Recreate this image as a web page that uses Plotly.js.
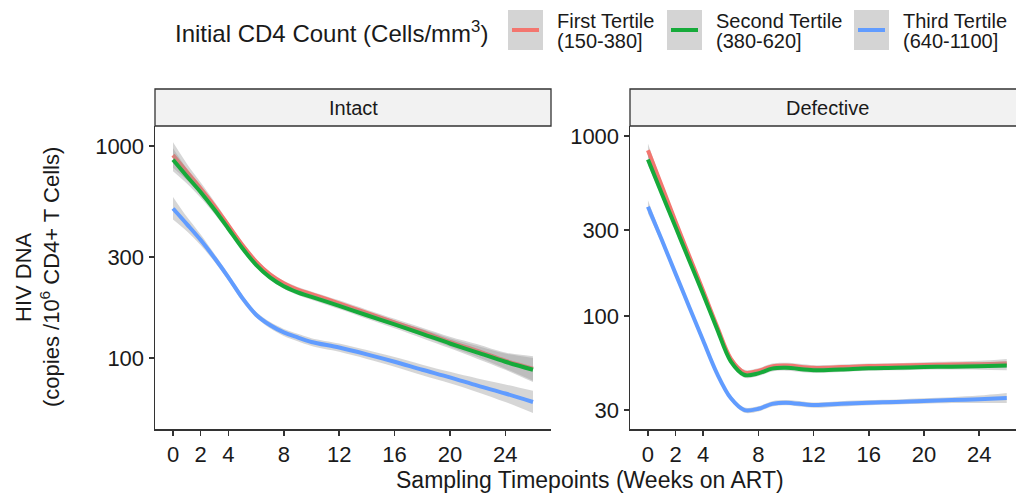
<!DOCTYPE html>
<html>
<head>
<meta charset="utf-8">
<script src="https://cdn.plot.ly/plotly-3.0.1.min.js"></script>
<style>
  html, body { margin: 0; padding: 0; background: #ffffff; }
  #chart { width: 1016px; height: 493px; }
</style>
</head>
<body>
<div id="chart"></div>
<script>
// ---------------- DATA ----------------
const weeks = [0, 1, 2, 3, 4, 5, 6, 7, 8, 9, 10, 12, 14, 16, 18, 20, 22, 24, 26];

const seriesNames = ["First Tertile", "Second Tertile", "Third Tertile"];
const seriesRanges = ["(150-380]", "(380-620]", "(640-1100]"];
const panelNames = ["Intact", "Defective"];

// Intact panel
const intactFirst   = [905, 755, 630, 520, 422, 342, 285, 248, 225, 210, 200, 181, 163, 147, 133, 119, 108, 97, 89];
const intactFirstLo = [790, 690, 590, 495, 407, 332, 277, 241, 219, 204, 194, 175, 157, 141, 127, 113, 101, 89, 78];
const intactFirstHi = [1040, 825, 672, 546, 438, 352, 293, 255, 231, 216, 206, 187, 169, 153, 139, 126, 116, 106, 102];

const intactSecond   = [860, 720, 605, 500, 407, 330, 275, 240, 218, 204, 194, 176, 159, 144, 130, 117, 106, 96, 88];
const intactSecondLo = [760, 665, 570, 478, 393, 320, 268, 234, 212, 198, 188, 170, 153, 138, 124, 111, 99, 88, 77];
const intactSecondHi = [975, 780, 642, 523, 422, 340, 282, 246, 224, 210, 200, 182, 165, 150, 137, 124, 114, 105, 100];

const intactThird   = [507, 428, 360, 296, 240, 192, 160, 143, 132, 125, 119, 112, 104, 96, 88, 81, 74, 68, 62];
const intactThirdLo = [450, 396, 340, 284, 231, 185, 155, 138, 127, 120, 114, 107, 99, 91, 83, 76, 69, 62, 55];
const intactThirdHi = [575, 463, 382, 309, 249, 199, 165, 148, 137, 130, 124, 117, 109, 101, 93, 86, 80, 75, 70];

// Defective panel
const defFirst   = [835, 530, 335, 215, 138, 88, 58, 48.5, 49.5, 52.5, 53, 51.5, 52, 52.7, 53, 53.5, 53.8, 54, 54.5];
const defFirstLo = [770, 505, 322, 208, 133, 85, 56, 46.8, 47.8, 50.6, 51.1, 49.7, 50.3, 51, 51.3, 51.7, 51.8, 51.7, 51.5];
const defFirstHi = [910, 556, 348, 222, 143, 91, 60, 50.2, 51.2, 54.4, 54.9, 53.3, 53.7, 54.4, 54.7, 55.3, 55.8, 56.4, 57.7];

const defSecond   = [740, 480, 312, 203, 132, 85, 56, 47, 48, 51, 51.5, 50, 50.5, 51.2, 51.5, 52, 52.3, 52.6, 53];
const defSecondLo = [690, 460, 301, 197, 128, 82.5, 54.3, 45.4, 46.4, 49.2, 49.7, 48.3, 48.9, 49.6, 49.9, 50.3, 50.4, 50.3, 50];
const defSecondHi = [795, 500, 323, 209, 136, 87.5, 57.7, 48.6, 49.6, 52.8, 53.3, 51.7, 52.1, 52.8, 53.1, 53.7, 54.2, 54.9, 56.2];

const defThird   = [405, 265, 172, 112, 73, 48, 35, 30, 30.5, 32.5, 33, 32, 32.5, 33, 33.3, 33.7, 34.1, 34.5, 35];
const defThirdLo = [372, 252, 165, 108.5, 70.8, 46.5, 33.9, 29, 29.5, 31.4, 31.9, 30.9, 31.4, 31.9, 32.2, 32.5, 32.8, 32.9, 32.8];
const defThirdHi = [440, 278, 179, 115.5, 75.2, 49.5, 36.1, 31, 31.5, 33.6, 34.1, 33.1, 33.6, 34.1, 34.4, 34.9, 35.4, 36.1, 37.3];

const xTicks = [0, 2, 4, 8, 12, 16, 20, 24];
const yTicksIntact = [100, 300, 1000];
const yTicksDefective = [30, 100, 300, 1000];

// ---------------- STYLE ----------------
const W = 1016, H = 493;
const colors = ["#F3766F", "#16AA3A", "#619CFF"];
const ribbonFill = "rgba(153,153,153,0.4)";
const FONT = "Liberation Sans, Arial, Helvetica, sans-serif";
const TXT = "#1a1a1a";
const AX = "#333333";

const px = x => x / W;
const py = y => 1 - y / H;

const panels = [
  { xa: "x", ya: "y", data: [[intactFirst, intactFirstLo, intactFirstHi], [intactSecond, intactSecondLo, intactSecondHi], [intactThird, intactThirdLo, intactThirdHi]] },
  { xa: "x2", ya: "y2", data: [[defFirst, defFirstLo, defFirstHi], [defSecond, defSecondLo, defSecondHi], [defThird, defThirdLo, defThirdHi]] }
];

const traces = [];
panels.forEach(p => {
  p.data.forEach((s, i) => {
    const [mid, lo, hi] = s;
    traces.push({ x: weeks, y: lo, xaxis: p.xa, yaxis: p.ya, type: "scatter", mode: "lines",
      line: { width: 0, shape: "spline", smoothing: 0.9 }, showlegend: false, hoverinfo: "skip" });
    traces.push({ x: weeks, y: hi, xaxis: p.xa, yaxis: p.ya, type: "scatter", mode: "lines",
      line: { width: 0, shape: "spline", smoothing: 0.9 }, fill: "tonexty", fillcolor: ribbonFill,
      showlegend: false, hoverinfo: "skip" });
    traces.push({ x: weeks, y: mid, xaxis: p.xa, yaxis: p.ya, type: "scatter", mode: "lines",
      name: seriesNames[i], line: { width: 4, color: colors[i], shape: "spline", smoothing: 0.9 },
      showlegend: false });
  });
});

const axisCommon = {
  showline: true, linecolor: AX, linewidth: 1.5, mirror: false,
  ticks: "outside", ticklen: 5, tickwidth: 1.5, tickcolor: AX,
  showgrid: false, zeroline: false,
  tickfont: { family: FONT, size: 22, color: TXT }
};

const layout = {
  width: W, height: H,
  margin: { l: 0, r: 0, t: 0, b: 0 },
  paper_bgcolor: "#ffffff", plot_bgcolor: "#ffffff",
  showlegend: false,
  xaxis: Object.assign({}, axisCommon, { domain: [px(155), px(551)], range: [-1.3, 27.3],
    tickvals: xTicks, ticktext: xTicks.map(String), anchor: "y" }),
  xaxis2: Object.assign({}, axisCommon, { domain: [px(630), 1], range: [-1.3, 26.67],
    tickvals: xTicks, ticktext: xTicks.map(String), anchor: "y2" }),
  yaxis: Object.assign({}, axisCommon, { type: "log", domain: [py(429), py(126)], range: [1.665, 3.094],
    tickvals: yTicksIntact, ticktext: yTicksIntact.map(String), anchor: "x" }),
  yaxis2: Object.assign({}, axisCommon, { type: "log", domain: [py(429), py(126)], range: [1.372, 3.056],
    tickvals: yTicksDefective, ticktext: yTicksDefective.map(String), anchor: "x2" }),
  shapes: [],
  annotations: []
};

// strips
layout.shapes.push({ type: "rect", xref: "paper", yref: "paper", x0: px(155), x1: px(551), y0: py(126), y1: py(89),
  fillcolor: "#F2F2F2", line: { color: AX, width: 1.3 }, layer: "below" });
layout.shapes.push({ type: "rect", xref: "paper", yref: "paper", x0: px(630), x1: px(1030), y0: py(126), y1: py(89),
  fillcolor: "#F2F2F2", line: { color: AX, width: 1.3 }, layer: "below" });
layout.annotations.push({ xref: "paper", yref: "paper", x: px(353), y: py(107.5), text: panelNames[0], showarrow: false,
  xanchor: "center", yanchor: "middle", font: { family: FONT, size: 20, color: TXT } });
layout.annotations.push({ xref: "paper", yref: "paper", x: px(827), y: py(107.5), text: panelNames[1], showarrow: false,
  xanchor: "center", yanchor: "middle", font: { family: FONT, size: 20, color: TXT } });

// axis titles
layout.annotations.push({ xref: "paper", yref: "paper", x: px(590), y: py(480), text: "Sampling Timepoints (Weeks on ART)",
  showarrow: false, xanchor: "center", yanchor: "middle", font: { family: FONT, size: 23, color: TXT } });
layout.annotations.push({ xref: "paper", yref: "paper", x: px(23), y: py(277), text: "HIV DNA", textangle: -90,
  showarrow: false, xanchor: "center", yanchor: "middle", font: { family: FONT, size: 22, color: TXT } });
layout.annotations.push({ xref: "paper", yref: "paper", x: px(50), y: py(277), text: "(copies /10<sup>6</sup> CD4+ T Cells)", textangle: -90,
  showarrow: false, xanchor: "center", yanchor: "middle", font: { family: FONT, size: 22, color: TXT } });

// legend (manual)
layout.annotations.push({ xref: "paper", yref: "paper", x: px(173), y: py(32), text: "Initial CD4 Count (Cells/mm<sup>3</sup>)",
  showarrow: false, xanchor: "left", yanchor: "middle", font: { family: FONT, size: 24, color: TXT } });
const keyX = [508, 667, 854];
keyX.forEach((kx, i) => {
  layout.shapes.push({ type: "rect", xref: "paper", yref: "paper", x0: px(kx), x1: px(kx + 35), y0: py(50), y1: py(10),
    fillcolor: "#D4D4D4", line: { width: 0 } });
  layout.shapes.push({ type: "line", xref: "paper", yref: "paper", x0: px(kx + 4), x1: px(kx + 31), y0: py(30), y1: py(30),
    line: { color: colors[i], width: 4 } });
  layout.annotations.push({ xref: "paper", yref: "paper", x: px(kx + 47), y: py(21), text: seriesNames[i],
    showarrow: false, xanchor: "left", yanchor: "middle", font: { family: FONT, size: 20, color: TXT } });
  layout.annotations.push({ xref: "paper", yref: "paper", x: px(kx + 47), y: py(40.5), text: seriesRanges[i],
    showarrow: false, xanchor: "left", yanchor: "middle", font: { family: FONT, size: 20, color: TXT } });
});

Plotly.newPlot("chart", traces, layout, { staticPlot: true, displayModeBar: false });
</script>
</body>
</html>
